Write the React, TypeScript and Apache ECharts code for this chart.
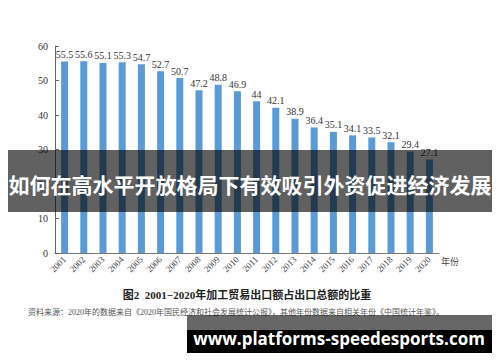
import React, { useEffect, useRef } from "react";
import * as echarts from "echarts";

const years = ["2001","2002","2003","2004","2005","2006","2007","2008","2009","2010","2011","2012","2013","2014","2015","2016","2017","2018","2019","2020"];
const shares = [55.5, 55.6, 55.1, 55.3, 54.7, 52.7, 50.7, 47.2, 48.8, 46.9, 44, 42.1, 38.9, 36.4, 35.1, 34.1, 33.5, 32.1, 29.4, 27.1];
const yTicks = { min: 0, max: 60, interval: 10 };
const axisUnit = "年份";
const caption = "图2  2001−2020年加工贸易出口额占出口总额的比重";
const sourceNote = "资料来源：2020年的数据来自《2020年国民经济和社会发展统计公报》，其他年份数据来自相关年份《中国统计年鉴》。";
const bannerTitle = "如何在高水平开放格局下有效吸引外资促进经济发展";
const bannerUrl = "www.platforms-speedesports.com";

const serif = "'Liberation Serif', 'DejaVu Serif', 'Noto Sans CJK SC', serif";
const cjkSans = "'Noto Sans CJK SC', 'Noto Sans', sans-serif";

export default function App() {
  const ref = useRef<HTMLDivElement>(null);
  useEffect(() => {
    if (!ref.current) return;
    const chart = echarts.init(ref.current, null, { renderer: "svg" });
    chart.setOption({
      animation: false,
      backgroundColor: "#ffffff",
      grid: { left: 55, top: 46, width: 384, height: 207, containLabel: false },
      xAxis: {
        type: "category",
        data: years,
        axisLine: { show: true, lineStyle: { color: "#777", width: 1 } },
        axisTick: { show: false },
        axisLabel: { rotate: 45, fontSize: 9, fontFamily: serif, color: "#444", margin: 5 },
      },
      yAxis: {
        type: "value",
        min: yTicks.min,
        max: yTicks.max,
        interval: yTicks.interval,
        axisLine: { show: true, lineStyle: { color: "#666", width: 1 } },
        axisTick: { show: true, inside: true, length: 4, lineStyle: { color: "#666" } },
        splitLine: { show: false },
        axisLabel: { fontSize: 10, fontFamily: serif, color: "#333", margin: 7 },
      },
      series: [
        {
          type: "bar",
          data: shares,
          barWidth: 7,
          itemStyle: { color: "#5B9BD5" },
          label: {
            show: true,
            position: "top",
            distance: 2,
            fontSize: 10,
            fontFamily: serif,
            color: "#333",
          },
        },
      ],
      graphic: [
        {
          type: "text",
          left: 441,
          top: 257,
          z: 50,
          style: { text: axisUnit, fontSize: 9, fontFamily: cjkSans, fill: "#444" },
        },
        {
          type: "text",
          x: 247,
          y: 295,
          z: 50,
          style: {
            text: caption,
            fontSize: 11,
            fontWeight: "bold",
            fontFamily: serif,
            fill: "#222",
            align: "center",
            verticalAlign: "middle",
          },
        },
        {
          type: "text",
          x: 236,
          y: 312,
          z: 50,
          style: {
            text: sourceNote,
            fontSize: 8,
            fontFamily: serif,
            fill: "#555",
            align: "center",
            verticalAlign: "middle",
          },
        },
        {
          type: "rect",
          z: 100,
          shape: { x: 8, y: 150, width: 484, height: 62 },
          style: { fill: "rgba(0,0,0,0.62)" },
        },
        {
          type: "text",
          x: 250,
          y: 184,
          z: 101,
          style: {
            text: bannerTitle,
            fontSize: 21,
            fontWeight: "bold",
            fontFamily: cjkSans,
            fill: "#ffffff",
            align: "center",
            verticalAlign: "middle",
          },
        },
        {
          type: "rect",
          z: 100,
          shape: { x: 187, y: 315, width: 305, height: 38 },
          style: { fill: "rgba(0,0,0,0.6)" },
        },
        {
          type: "rect",
          z: 100,
          shape: { x: 187, y: 330, width: 305, height: 23 },
          style: { fill: "#000000" },
        },
        {
          type: "text",
          x: 339,
          y: 338,
          z: 101,
          style: {
            text: bannerUrl,
            fontSize: 17,
            fontWeight: "bold",
            fontFamily: "'Open Sans', 'Noto Sans', sans-serif",
            fill: "#ffffff",
            align: "center",
            verticalAlign: "middle",
          },
        },
      ],
    });
    return () => chart.dispose();
  }, []);
  return (
    <div
      ref={ref}
      style={{ position: "fixed", left: 0, top: 0, width: 500, height: 362 }}
    />
  );
}
